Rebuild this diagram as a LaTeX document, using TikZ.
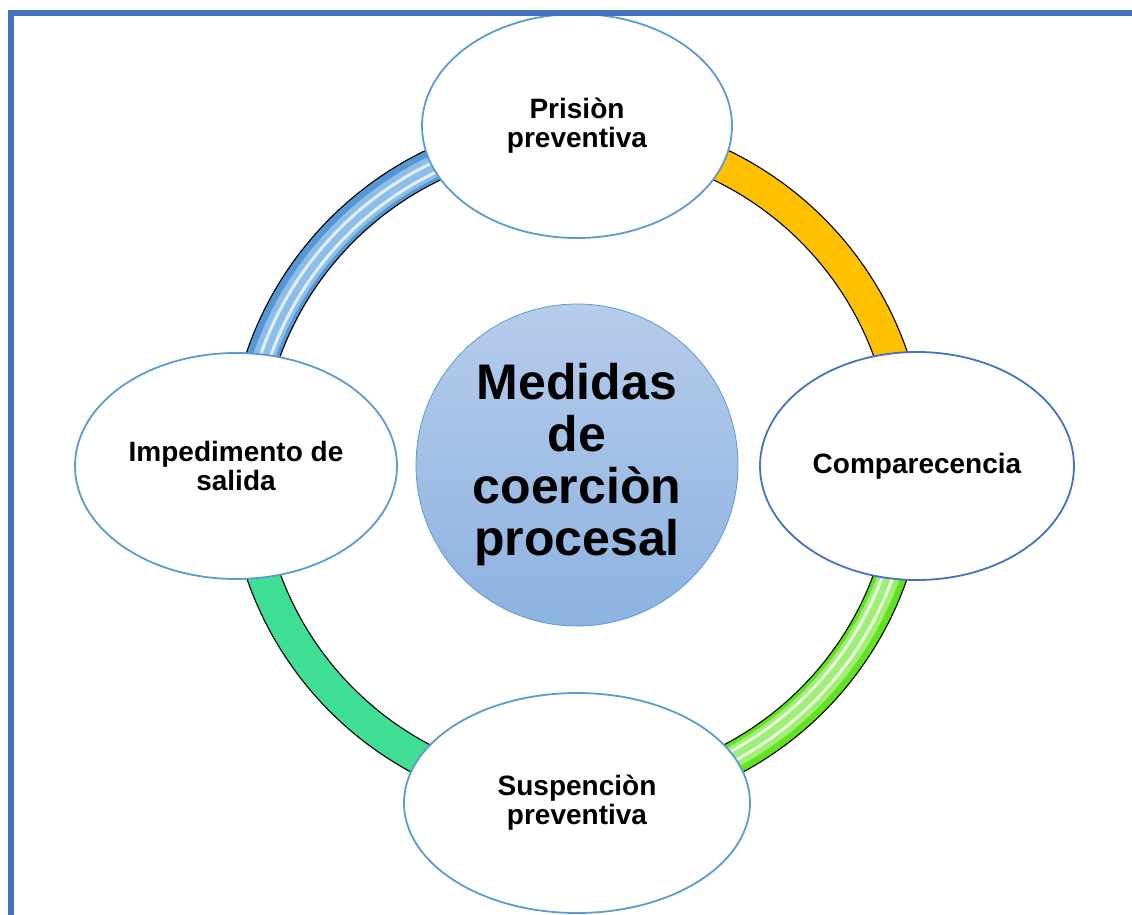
\documentclass[tikz,border=0pt]{standalone}
\usepackage{fontspec}
\setmainfont{Liberation Sans}
\usepackage{xcolor}
\usetikzlibrary{shapes.geometric}
\definecolor{Frame}{RGB}{68,114,196}
\definecolor{Edge}{RGB}{91,155,213}
\definecolor{RingBlue}{RGB}{86,150,212}
\definecolor{RingSky}{RGB}{140,190,234}
\definecolor{RingGold}{RGB}{255,192,0}
\definecolor{RingLime}{RGB}{96,226,28}
\definecolor{RingMint}{RGB}{62,222,148}
\definecolor{HubTop}{RGB}{182,204,235}
\definecolor{HubBot}{RGB}{140,178,225}
\tikzset{
  measure/.style={ellipse,draw=Edge,line width=1.8pt,fill=white,inner sep=0pt,
    align=center,font=\bfseries\fontsize{28}{29}\selectfont},
  hubdisk/.style={circle,draw=Edge,line width=0.8pt,top color=HubTop,bottom color=HubBot,
    inner sep=0pt,minimum size=322,align=center,font=\bfseries\fontsize{50}{52}\selectfont}
}
\newcommand{\RingPart}[3]{% from to colour
\draw[line width=33pt,#3] ([shift={(#1:332.5)}]hub.center) arc[start angle=#1,end angle=#2,radius=332.5];
\draw[line width=1.1pt] ([shift={(#1:349)}]hub.center) arc[start angle=#1,end angle=#2,radius=349];
\draw[line width=1.1pt] ([shift={(#1:316)}]hub.center) arc[start angle=#1,end angle=#2,radius=316];
}
\newcommand{\RingShine}[3]{% from to colour
\draw[line width=22pt,#3] ([shift={(#1:331)}]hub.center) arc[start angle=#1,end angle=#2,radius=331];
\draw[line width=3pt,white,opacity=0.75] ([shift={(#1:335)}]hub.center) arc[start angle=#1,end angle=#2,radius=335];
\draw[line width=3pt,white,opacity=0.75] ([shift={(#1:325)}]hub.center) arc[start angle=#1,end angle=#2,radius=325];
}

\begin{document}
\begin{tikzpicture}[x=1pt,y=-1pt]
\useasboundingbox (0,0) rectangle (1132,915);
% centre
\node[hubdisk] (hub) at (577,465) {Medidas\\de\\coerciòn\\procesal};
% ring, one colour per quarter
\RingPart{180}{270}{RingBlue}
\RingShine{180}{270}{RingSky}
\RingPart{270}{360}{RingGold}
\RingPart{0}{90}{RingLime}
\RingShine{0}{90}{RingLime!60}
\RingPart{90}{180}{RingMint}
% the four measures
\node[measure,minimum width=310,minimum height=224] (prision) at (577,126) {Prisiòn\\preventiva};
\node[measure,draw=Frame,minimum width=314,minimum height=228] (compar) at (917,466) {Comparecencia};
\node[measure,minimum width=346,minimum height=220] (suspen) at (577,803) {Suspenciòn\\preventiva};
\node[measure,minimum width=322,minimum height=226] (impedi) at (236,466) {Impedimento de\\salida};
% frame
\draw[Frame,line width=6pt] (11,915) -- (11,13) -- (1132,13);
\end{tikzpicture}
\end{document}
